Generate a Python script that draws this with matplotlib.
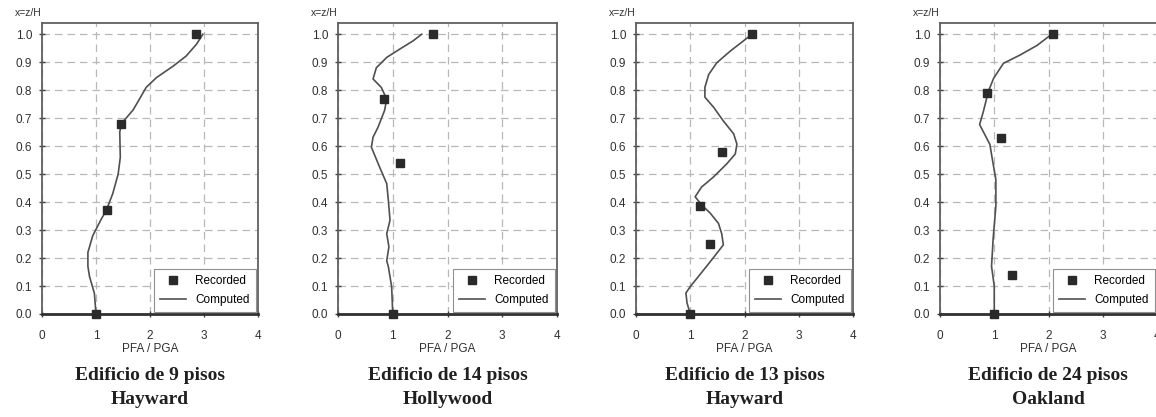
import matplotlib.pyplot as plt

# recorded points (PFA/PGA, z/H)
rec_x1 = [1.0, 1.2, 1.47, 2.85]
rec_y1 = [0.0, 0.37, 0.68, 1.0]
rec_x2 = [1.0, 0.84, 1.14, 1.74]
rec_y2 = [0.0, 0.77, 0.54, 1.0]
rec_x3 = [1.0, 1.37, 1.18, 1.58, 2.14]
rec_y3 = [0.0, 0.25, 0.387, 0.579, 1.0]
rec_x4 = [1.0, 1.32, 1.12, 0.86, 2.08]
rec_y4 = [0.0, 0.14, 0.63, 0.79, 1.0]

# computed curves
comp_x1 = [1.0, 0.97, 0.88, 0.85, 0.85, 0.94, 1.1, 1.19, 1.31, 1.41, 1.45, 1.44,
           1.47, 1.69, 1.81, 1.93, 2.12, 2.43, 2.67, 2.86, 2.98]
comp_y1 = [0.0, 0.074, 0.134, 0.17, 0.22, 0.28, 0.34, 0.37, 0.43, 0.50, 0.56, 0.65,
           0.68, 0.73, 0.77, 0.81, 0.845, 0.886, 0.922, 0.964, 1.0]
comp_x2 = [1.0, 0.98, 0.92, 0.89, 0.93, 0.89, 0.95, 0.92, 0.89, 0.76, 0.61, 0.64,
           0.73, 0.85, 0.89, 0.79, 0.64, 0.70, 0.89, 1.13, 1.37, 1.53]
comp_y2 = [0.0, 0.097, 0.169, 0.19, 0.24, 0.287, 0.335, 0.406, 0.466, 0.525, 0.596, 0.632,
           0.667, 0.727, 0.768, 0.81, 0.84, 0.88, 0.917, 0.947, 0.976, 1.0]
comp_x3 = [1.0, 0.94, 0.92, 1.0, 1.15, 1.34, 1.49, 1.61, 1.58, 1.52, 1.37, 1.21, 1.09,
           1.21, 1.43, 1.67, 1.83, 1.86, 1.80, 1.61, 1.43, 1.27, 1.27, 1.34, 1.49, 1.74,
           1.98, 2.14]
comp_y3 = [0.0, 0.04, 0.075, 0.098, 0.134, 0.18, 0.217, 0.247, 0.287, 0.324, 0.36, 0.39,
           0.419, 0.454, 0.49, 0.536, 0.572, 0.607, 0.644, 0.69, 0.739, 0.775, 0.81, 0.856,
           0.898, 0.94, 0.976, 1.0]
comp_x4 = [1.0, 1.0, 0.95, 0.98, 1.03, 1.03, 0.95, 0.92, 0.73, 0.80, 0.89, 0.99, 1.17,
           1.48, 1.79, 2.06]
comp_y4 = [0.0, 0.10, 0.17, 0.27, 0.385, 0.48, 0.57, 0.606, 0.677, 0.724, 0.795, 0.843,
           0.896, 0.926, 0.96, 1.0]

titles = ["Edificio de 9 pisos\nHayward", "Edificio de 14 pisos\nHollywood",
          "Edificio de 13 pisos\nHayward", "Edificio de 24 pisos\nOakland"]

W, H = 1156, 417
lefts = [42, 338, 636, 940]
widths = [216, 219, 217, 217]
top_px, bot_px = 23, 314

fig = plt.figure(figsize=(W / 100, H / 100), dpi=100)

panels = [(rec_x1, rec_y1, comp_x1, comp_y1), (rec_x2, rec_y2, comp_x2, comp_y2),
          (rec_x3, rec_y3, comp_x3, comp_y3), (rec_x4, rec_y4, comp_x4, comp_y4)]

sans = 'Liberation Sans'

for i, (rx, ry, cx, cy) in enumerate(panels):
    ax = fig.add_axes([lefts[i] / W, 1 - bot_px / H, widths[i] / W, (bot_px - top_px) / H])
    ax.grid(True, color='#b8b8b8', linestyle=(0, (6, 4)), linewidth=0.9)
    ax.set_axisbelow(True)
    ax.plot(cx, cy, color='#505050', linewidth=1.2, label='Computed', zorder=3)
    ax.plot(rx, ry, 's', color='#2a2a2a', markersize=5.5, linestyle='none',
            label='Recorded', zorder=4, clip_on=False)
    ax.set_xlim(0, 4)
    ax.set_ylim(0, 1.04)
    ax.set_xticks([0, 1, 2, 3, 4])
    ax.set_yticks([k / 10 for k in range(11)])
    ax.set_yticklabels([f"{k / 10:.1f}" for k in range(11)])
    for s in ['top', 'right', 'left']:
        ax.spines[s].set_color('#606060')
        ax.spines[s].set_linewidth(1.3)
    ax.spines['bottom'].set_color('#303030')
    ax.spines['bottom'].set_linewidth(2.0)
    ax.tick_params(axis='both', direction='inout', length=5, width=1, color='#404040',
                   labelsize=8.5, labelcolor='#303030')
    ax.tick_params(axis='x', pad=9)
    ax.tick_params(axis='y', pad=4.5)
    for lab in ax.get_xticklabels() + ax.get_yticklabels():
        lab.set_family(sans)
    ax.set_xlabel('PFA / PGA', fontsize=8.5, family=sans, color='#303030', labelpad=1)
    fig.text(lefts[i] / W, 1 - 13 / H, 'x=z/H', ha='right', va='center',
             fontsize=7.5, family=sans, color='#303030')
    handles, labels = ax.get_legend_handles_labels()
    leg = ax.legend(handles[::-1], labels[::-1], loc='lower right',
                    prop={'family': sans, 'size': 8.5},
                    fancybox=False, framealpha=1, edgecolor='#909090',
                    handlelength=2.2, borderaxespad=0.2, labelspacing=0.55,
                    borderpad=0.5)
    leg.get_frame().set_linewidth(0.8)
    cx_px = lefts[i] + widths[i] / 2 if i < 3 else lefts[i] + 54 * 2
    line1, line2 = titles[i].split('\n')
    fig.text(cx_px / W, 1 - 375 / H, line1, ha='center', va='center',
             fontsize=14, fontweight='bold', family='Liberation Serif', color='#202020')
    fig.text(cx_px / W, 1 - 400 / H, line2, ha='center', va='center',
             fontsize=14, fontweight='bold', family='Liberation Serif', color='#202020')

fig.savefig('out.png', dpi=100)
